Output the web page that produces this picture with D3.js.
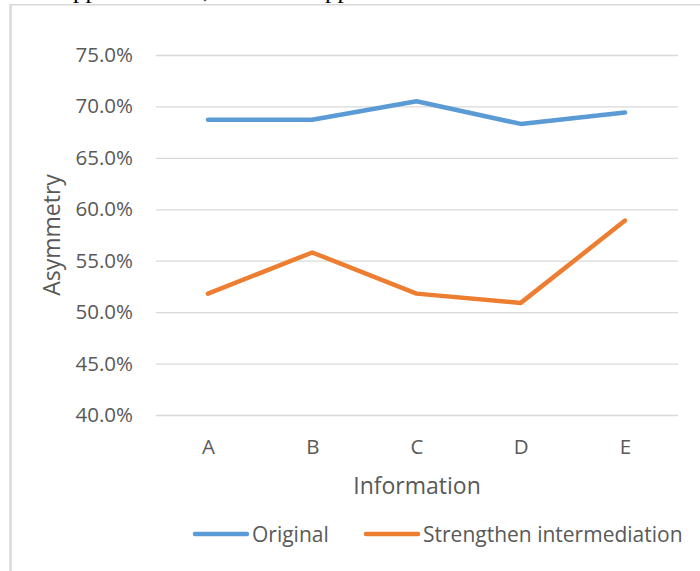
<!DOCTYPE html>
<html><head><meta charset="utf-8">
<script src="https://cdn.jsdelivr.net/npm/d3@7"></script>
<style>html,body{margin:0;padding:0;background:#fff;overflow:hidden}</style>
</head><body>
<svg id="c" width="700" height="571"></svg>
<script>
const categories = ["A","B","C","D","E"];
const original = [0.687, 0.687, 0.705, 0.683, 0.694];
const strengthen = [0.518, 0.558, 0.518, 0.509, 0.589];
const yTicks = [0.40,0.45,0.50,0.55,0.60,0.65,0.70,0.75];
const seriesNames = ["Original","Strengthen intermediation"];
const colors = ["#5B9BD5","#ED7D31"];

const svg = d3.select("#c");
const font = "'Open Sans', sans-serif";
const textColor = "#595959";

// clipped text from the page above
const topFont = "'Liberation Serif', serif";
[["approach",62],[",",203],["approach",314]].forEach(([t,x])=>{
  svg.append("text").attr("x",x).attr("y",-1.8).attr("font-family",topFont)
    .attr("font-size",25).attr("fill","#000").text(t);
});

// chart border
svg.append("line").attr("x1",10.5).attr("x2",10.5).attr("y1",4).attr("y2",571)
  .attr("stroke","#d9d9d9").attr("stroke-width",2.5);
svg.append("line").attr("x1",10).attr("x2",700).attr("y1",4.8).attr("y2",4.8)
  .attr("stroke","#d9d9d9").attr("stroke-width",1.5);

const x = d3.scalePoint().domain(categories).range([208,625]);
const y = d3.scaleLinear().domain([0.40,0.75]).range([415,55]);

const yAxis = d3.axisLeft(y).tickValues(yTicks).tickFormat(d3.format(".1%"))
  .tickSize(-(678-156)).tickPadding(23);
const gy = svg.append("g").attr("transform","translate(156,0)").call(yAxis);
gy.select(".domain").remove();
gy.selectAll(".tick line").attr("stroke","#d9d9d9").attr("stroke-width",1.3);
gy.selectAll(".tick text").attr("font-family",font).attr("font-size",20.5).attr("fill",textColor);

const xAxis = d3.axisBottom(x).tickSize(0).tickPadding(24);
const gx = svg.append("g").attr("transform","translate(0,415)").call(xAxis);
gx.select(".domain").remove();
gx.selectAll(".tick text").attr("font-family",font).attr("font-size",20.5).attr("fill",textColor);

svg.append("text").attr("x",417).attr("y",494).attr("text-anchor","middle")
  .attr("font-family",font).attr("font-size",23).attr("fill",textColor).text("Information");
svg.append("text").attr("transform","translate(60,235) rotate(-90)").attr("text-anchor","middle")
  .attr("font-family",font).attr("font-size",23).attr("fill",textColor).text("Asymmetry");

const line = d3.line().x((d,i)=>x(categories[i])).y(d=>y(d));
[original,strengthen].forEach((s,k)=>{
  svg.append("path").datum(s).attr("d",line).attr("fill","none")
    .attr("stroke",colors[k]).attr("stroke-width",4.5)
    .attr("stroke-linecap","round").attr("stroke-linejoin","round");
});

// legend
const legX = [195, 366];
seriesNames.forEach((n,k)=>{
  const g = svg.append("g").attr("transform",`translate(${legX[k]},534)`);
  g.append("line").attr("x1",0).attr("x2",52).attr("stroke",colors[k])
    .attr("stroke-width",4.5).attr("stroke-linecap","round");
  g.append("text").attr("x",57).attr("y",7.5).attr("font-family",font)
    .attr("font-size",21).attr("fill",textColor).text(n);
});
</script>
</body></html>
